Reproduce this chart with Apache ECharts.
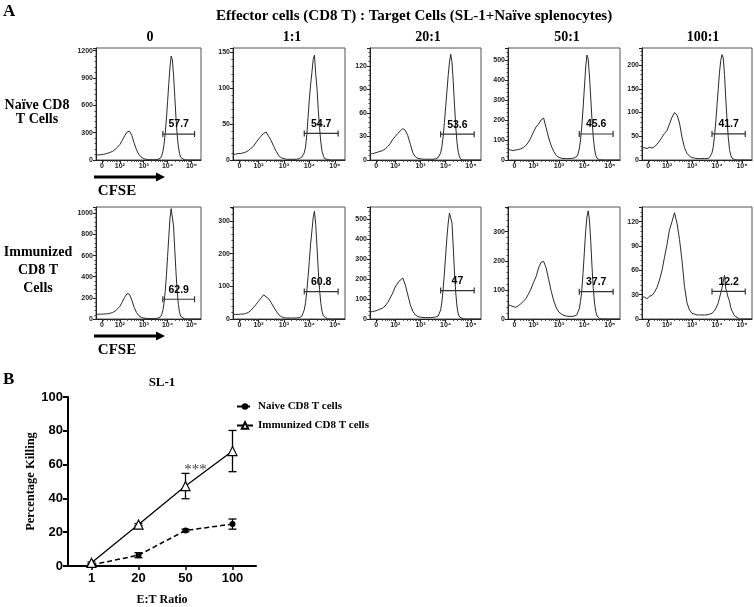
<!DOCTYPE html>
<html><head><meta charset="utf-8">
<script src="https://cdn.jsdelivr.net/npm/echarts/dist/echarts.min.js"></script>
<style>html,body{margin:0;padding:0;background:#fff}#c{width:754px;height:607px}</style>
</head><body><div id="c"></div>
<script>
// ---- CFSE histogram data (x in display decades: 2 = 10^2 ... 5 = 10^5) ----
const cfseBins = [1.0,1.1,1.2,1.3,1.4,1.5,1.6,1.7,1.8,1.9,2.0,2.1,2.2,2.3,2.4,2.5,2.6,2.7,2.8,2.9,3.0,3.1,3.2,3.3,3.4,3.5,3.6,3.7,
  3.75,3.8,3.85,3.9,3.95,4.0,4.05,4.1,4.15,4.2,4.25,4.3,4.35,4.4,4.45,4.5,4.55,4.6,
  4.7,4.8,4.9,5.0,5.1,5.2,5.3,5.4];
const cfseTickValues = [1.25, 2, 3, 4, 5];
const cfseTickLabels = ['0', '10²', '10³', '10⁴', '10⁵'];

const naive0   = [55,56,58,62,68,75,85,95,115,140,170,215,265,305,318,270,185,110,60,30,15,8,5,3,3,4,8,20,
  45,90,170,290,450,640,840,1020,1140,1100,930,700,470,280,150,70,30,12, 3,0,0,0,0,0,0,0];
const naive1   = [8,8,9,9,10,11,13,16,19,24,29,33,37,39,33,27,19,12,6,3,2,1,1,1,1,1,2,4,
  7,10,18,35,60,85,105,122,140,146,120,100,70,45,25,12,6,2, 1,0,0,0,0,0,0,0];
const naive20  = [8,8,9,10,11,12,14,17,21,26,30,34,37,40,38,31,20,9,4,2,1.5,1,1,1,1,1,1.5,3,
  5,9,17,30,48,68,88,108,125,135,125,100,70,42,22,10,4,1, 0,0,0,0,0,0,0,0];
const naive50  = [52,50,47,50,52,56,62,72,88,112,140,165,180,200,210,160,110,70,42,22,13,9,7,7,7,8,10,18,
  30,55,100,170,260,360,460,525,505,420,310,200,115,55,22,8,3,1, 0,0,0,0,0,0,0,0];
const naive100 = [25,26,24,27,25,28,33,40,48,56,62,76,90,100,95,78,48,26,14,8,5,4,3,3,3,3,3,5,
  8,15,28,50,80,115,150,185,210,222,215,180,130,85,48,22,10,4, 1,0,0,0,0,0,0,0];
const imm0     = [45,45,46,47,48,50,55,62,75,95,120,160,205,240,235,180,110,60,30,15,9,6,5,4,4,5,9,20,
  40,80,150,260,410,590,780,950,1045,1030,880,660,450,270,140,65,25,10, 2,0,0,0,0,0,0,0];
const imm1     = [14,14,14,15,15,17,20,26,35,44,54,64,74,68,62,50,36,24,13,7,4,3,3,3,3,3,4,8,
  14,28,50,85,130,180,230,270,310,330,290,220,150,90,48,22,9,3, 1,0,0,0,0,0,0,0];
const imm20    = [35,37,40,44,50,55,65,82,105,130,160,180,195,205,170,120,70,38,20,12,9,8,7,7,7,8,10,15,
  25,45,85,150,230,320,410,480,530,540,480,360,230,130,60,25,10,4, 1,0,0,0,0,0,0,0];
const imm50    = [48,46,43,40,45,52,60,70,85,103,125,145,175,195,198,175,135,95,62,38,24,17,12,10,9,9,10,14,
  20,35,60,100,160,230,300,350,372,340,270,180,105,55,25,10,4,1, 0,0,0,0,0,0,0,0];
const imm100   = [27,27,25,28,29,33,39,48,60,76,92,110,120,131,118,98,72,40,20,11,7,6,5,5,5,5,5,6,
  6,7,8,10,13,16,20,26,32,38,46,54,38,32,26,22,14,10, 4,2,0,0,0,0,0,0];

const columnLabels = ['0', '1:1', '20:1', '50:1', '100:1'];
const naiveGateLabels = ['57.7', '54.7', '53.6', '45.6', '41.7'];
const immGateLabels   = ['62.9', '60.8', '47', '37.7', '12.2'];
const naiveGateY = [285, 37, 33, 130, 55];
const immGateY   = [187, 84, 142, 94, 34];
const gateRange  = [3.8, 5.13];
const naiveYMax = [1229, 156, 143, 560, 236];
const immYMax   = [1060, 343, 560, 385, 138];
const naiveYStep = [300, 50, 30, 100, 50];
const immYStep   = [200, 100, 100, 100, 30];

// ---- Panel B data ----
const etCategories = ['1', '20', '50', '100'];
const naiveKill = [0.6, 6.4, 21, 24.8];
const naiveErr  = [0.3, 1.5, 0.8, 3];
const immKill   = [1.9, 24.5, 47.3, 68];
const immErr    = [0.5, 0.6, 7.5, 12.2];

// ---- layout ----
const colLeft  = [96, 233, 370, 508, 642];
const colWidth = [105, 112, 111, 112, 110];
const rowTop   = [48, 207];
const panelH   = 112;
const SERIF = '"Liberation Serif","Times New Roman",serif';
const SANS  = '"Liberation Sans",Arial,sans-serif';

const minorTicks = [];
[1, 2, 3, 4].forEach(n => { for (let k = 2; k <= 9; k++) { const v = n + Math.log10(k); if (v > 1.3 && v < 5.4) minorTicks.push(v); } });

const panels = [];
const rowsData = [[naive0, naive1, naive20, naive50, naive100], [imm0, imm1, imm20, imm50, imm100]];
for (let r = 0; r < 2; r++) for (let c = 0; c < 5; c++) {
  panels.push({
    r, c, counts: rowsData[r][c],
    ymax: r === 0 ? naiveYMax[c] : immYMax[c],
    step: r === 0 ? naiveYStep[c] : immYStep[c],
    gy: r === 0 ? naiveGateY[c] : immGateY[c],
    glabel: r === 0 ? naiveGateLabels[c] : immGateLabels[c]
  });
}

const grids = [], xAxes = [], yAxes = [], series = [];
panels.forEach((p, i) => {
  grids.push({ left: colLeft[p.c], top: rowTop[p.r], width: colWidth[p.c], height: panelH,
    show: true, borderColor: '#555', borderWidth: 1, containLabel: false });
  xAxes.push({ type: 'value', gridIndex: i, min: 1.0, max: 5.4, position: 'bottom',
    axisLine: { show: true, onZero: false, lineStyle: { color: '#222', width: 1 } },
    axisTick: { show: true, customValues: cfseTickValues, length: 3, lineStyle: { color: '#222' } },
    axisLabel: { show: true, customValues: cfseTickValues, margin: 3,
      formatter: v => cfseTickLabels[cfseTickValues.indexOf(v)] || '',
      fontFamily: SANS, fontSize: 7, fontWeight: 'bold', color: '#222' },
    splitLine: { show: false } });
  xAxes.push({ type: 'value', gridIndex: i, min: 1.0, max: 5.4, position: 'bottom',
    axisLine: { show: false },
    axisTick: { show: true, customValues: minorTicks, length: 1.8, lineStyle: { color: '#333' } },
    axisLabel: { show: false }, splitLine: { show: false } });
  yAxes.push({ type: 'value', gridIndex: i, min: 0, max: p.ymax, interval: p.step,
    axisLine: { show: true, lineStyle: { color: '#222', width: 1 } },
    axisTick: { show: true, length: 3, lineStyle: { color: '#222' } },
    minorTick: { show: true, splitNumber: 5, length: 1.5, lineStyle: { color: '#444' } },
    axisLabel: { show: true, margin: 3, showMaxLabel: false, formatter: v => String(v),
      fontFamily: SANS, fontSize: 7, fontWeight: 'bold', color: '#222' },
    splitLine: { show: false } });
  series.push({ type: 'line', xAxisIndex: 2 * i, yAxisIndex: i, silent: true,
    data: cfseBins.map((x, j) => [x, p.counts[j]]), showSymbol: false, symbol: 'none',
    lineStyle: { color: '#2a2a2a', width: 1 }, z: 3 });
  series.push({ type: 'line', xAxisIndex: 2 * i, yAxisIndex: i, silent: true,
    data: [[gateRange[0], p.gy], [gateRange[1], p.gy]],
    symbol: 'rect', symbolSize: [1.2, 6], itemStyle: { color: '#333' },
    lineStyle: { color: '#333', width: 1.2 }, z: 4 });
  series.push({ type: 'scatter', xAxisIndex: 2 * i, yAxisIndex: i, silent: true,
    data: [[(gateRange[0] + gateRange[1]) / 2, p.gy]], symbolSize: 0, itemStyle: { opacity: 1 },
    label: { show: true, position: 'top', distance: 4, formatter: p.glabel, opacity: 1,
      fontFamily: SANS, fontSize: 10.5, fontWeight: 'bold', color: '#000', textBorderWidth: 0 }, z: 8, zlevel: 0 });
});

// ---- Panel B ----
const gB = grids.length;
grids.push({ left: 68, top: 397, width: 188, height: 177, containLabel: false });
xAxes.push({ type: 'category', gridIndex: gB, data: etCategories,
  axisLine: { lineStyle: { color: '#000', width: 2 } },
  axisTick: { show: true, alignWithLabel: true, length: 4, lineStyle: { width: 1.5 } },
  axisLabel: { fontFamily: SANS, fontSize: 13, fontWeight: 'bold', color: '#000', margin: 6 },
  name: 'E:T Ratio', nameLocation: 'middle', nameGap: 28,
  nameTextStyle: { fontFamily: SERIF, fontSize: 12, fontWeight: 'bold', color: '#000' } });
yAxes.push({ type: 'value', gridIndex: gB, min: 0, max: 100, interval: 20,
  axisLine: { show: true, lineStyle: { color: '#000', width: 2 } },
  axisTick: { show: true, length: 5, lineStyle: { width: 2 } },
  axisLabel: { fontFamily: SANS, fontSize: 13, fontWeight: 'bold', color: '#000', margin: 5 },
  splitLine: { show: false },
  name: 'Percentage Killing', nameLocation: 'middle', nameGap: 22,
  nameTextStyle: { fontFamily: SERIF, fontSize: 12.5, fontWeight: 'bold', color: '#000' } });
const xB = xAxes.length - 1, yB = yAxes.length - 1;

function errSeries(vals, errs) {
  return { type: 'custom', xAxisIndex: xB, yAxisIndex: yB, silent: true, z: 2,
    data: vals.map((v, i) => [i, v - errs[i], v + errs[i]]),
    renderItem: (params, api) => {
      const lo = api.coord([api.value(0), api.value(1)]);
      const hi = api.coord([api.value(0), api.value(2)]);
      const w = 4;
      const st = { stroke: '#000', lineWidth: 1.3 };
      return { type: 'group', children: [
        { type: 'line', shape: { x1: lo[0], y1: lo[1], x2: hi[0], y2: hi[1] }, style: st },
        { type: 'line', shape: { x1: lo[0] - w, y1: lo[1], x2: lo[0] + w, y2: lo[1] }, style: st },
        { type: 'line', shape: { x1: hi[0] - w, y1: hi[1], x2: hi[0] + w, y2: hi[1] }, style: st } ] };
    } };
}
series.push(errSeries(naiveKill, naiveErr));
series.push(errSeries(immKill, immErr));
series.push({ name: 'Naive CD8 T cells', type: 'line', xAxisIndex: xB, yAxisIndex: yB, data: naiveKill,
  symbol: 'circle', symbolSize: 6, itemStyle: { color: '#000' },
  lineStyle: { color: '#000', width: 1.5, type: [5, 3] }, z: 5 });
series.push({ name: 'Immunized CD8 T cells', type: 'line', xAxisIndex: xB, yAxisIndex: yB, data: immKill,
  symbol: 'triangle', symbolSize: 9, itemStyle: { color: '#fff', borderColor: '#000', borderWidth: 1.2 },
  lineStyle: { color: '#000', width: 1.3 }, z: 6,
  markPoint: { symbol: 'circle', symbolSize: 0, silent: true,
    data: [{ coord: ['50', 57], label: { show: true, formatter: '***', position: 'inside', offset: [10, 0],
      fontFamily: SERIF, fontSize: 15, color: '#444' } }] } });

// ---- text decorations ----
function txt(text, x, y, font, align) {
  return { type: 'text', x, y, silent: true, style: { text, font, fill: '#000', textAlign: align || 'center', textVerticalAlign: 'middle' } };
}
const graphics = [
  txt('A', 3, 12, 'bold 17px ' + SERIF, 'left'),
  txt('Effector cells (CD8 T) : Target Cells (SL-1+Naïve splenocytes)', 414, 16, 'bold 15px ' + SERIF),
  txt('Naïve CD8', 37, 105, 'bold 14px ' + SERIF),
  txt('T Cells', 37, 119, 'bold 14px ' + SERIF),
  txt('Immunized', 38, 252, 'bold 14px ' + SERIF),
  txt('CD8 T', 38, 270, 'bold 14px ' + SERIF),
  txt('Cells', 38, 288, 'bold 14px ' + SERIF),
  txt('CFSE', 117, 191, 'bold 15px ' + SERIF),
  txt('CFSE', 117, 350, 'bold 15px ' + SERIF),
  txt('B', 3, 380, 'bold 17px ' + SERIF, 'left'),
  txt('SL-1', 162, 383, 'bold 13px ' + SERIF),
  { type: 'line', silent: true, shape: { x1: 94, y1: 177, x2: 157, y2: 177 }, style: { stroke: '#000', lineWidth: 3 } },
  { type: 'polygon', silent: true, shape: { points: [[156, 172.5], [165, 177], [156, 181.5]] }, style: { fill: '#000' } },
  { type: 'line', silent: true, shape: { x1: 94, y1: 336, x2: 157, y2: 336 }, style: { stroke: '#000', lineWidth: 3 } },
  { type: 'polygon', silent: true, shape: { points: [[156, 331.5], [165, 336], [156, 340.5]] }, style: { fill: '#000' } }
];
const headerX = [150, 292, 428, 567, 703];
columnLabels.forEach((t, i) => graphics.push(txt(t, headerX[i], 37, 'bold 14px ' + SERIF)));

const chart = echarts.init(document.getElementById('c'), null, { renderer: 'canvas' });
chart.setOption({
  animation: false,
  backgroundColor: '#fff',
  grid: grids, xAxis: xAxes, yAxis: yAxes, series,
  legend: { data: ['Naive CD8 T cells', 'Immunized CD8 T cells'], orient: 'vertical', left: 231, top: 396,
    itemWidth: 16, itemHeight: 8, itemGap: 8, selectedMode: false,
    textStyle: { fontFamily: SERIF, fontSize: 11, fontWeight: 'bold', color: '#000' } },
  graphic: graphics
});
</script></body></html>
